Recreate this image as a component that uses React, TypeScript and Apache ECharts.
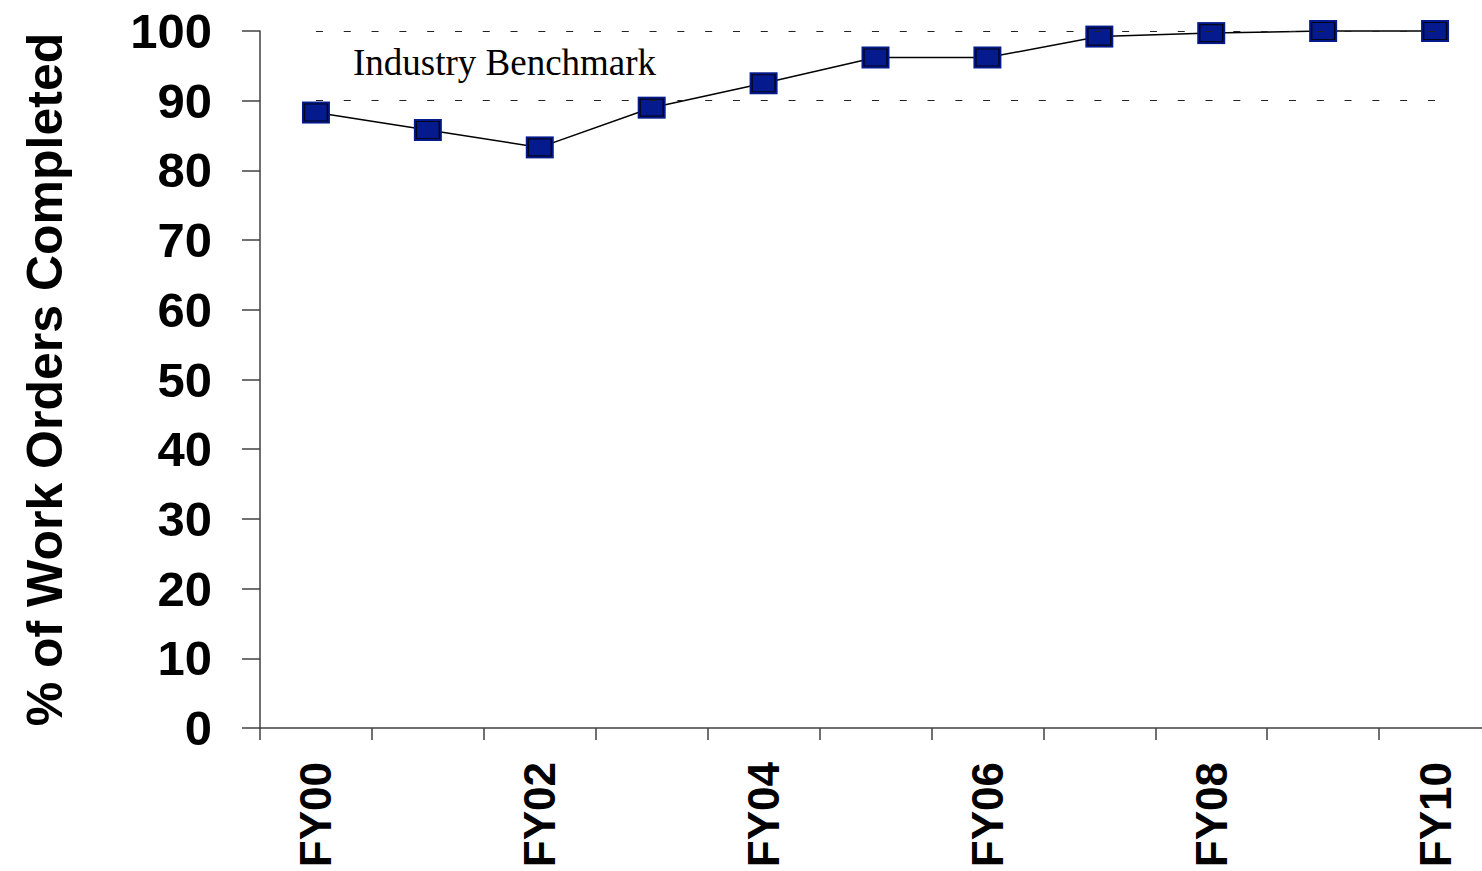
import React, { useEffect, useRef } from "react";
import * as echarts from "echarts";

const categories = ["FY00", "FY01", "FY02", "FY03", "FY04", "FY05", "FY06", "FY07", "FY08", "FY09", "FY10"];
const completed = [88.3, 85.8, 83.3, 89.0, 92.5, 96.2, 96.2, 99.2, 99.7, 100, 100];
const benchmarkLow = 90;
const benchmarkHigh = 100;
const benchmarkLabel = "Industry Benchmark";
const yTitle = "% of Work Orders Completed";

const BLUE = "#051A8D";
const AXIS = "#404040";

export default function App() {
  const ref = useRef<HTMLDivElement>(null);
  useEffect(() => {
    if (!ref.current) return;
    const chart = echarts.init(ref.current, null, { renderer: "svg" });
    const first = categories[0];
    const last = categories[categories.length - 1];
    chart.setOption({
      animation: false,
      backgroundColor: "#ffffff",
      grid: { left: 260, right: 9, top: 31, bottom: 143, containLabel: false },
      xAxis: {
        type: "category",
        data: categories,
        boundaryGap: true,
        axisLine: { show: true, lineStyle: { color: AXIS, width: 1.5 } },
        axisTick: { show: true, interval: 0, length: 12, lineStyle: { color: AXIS, width: 1.5 } },
        axisLabel: {
          interval: 1,
          rotate: 90,
          margin: 34,
          fontSize: 44,
          fontWeight: "bold",
          fontFamily: "Liberation Sans, Arial, sans-serif",
          color: "#000",
        },
        splitLine: { show: false },
      },
      yAxis: {
        type: "value",
        min: 0,
        max: 100,
        interval: 10,
        axisLine: { show: true, lineStyle: { color: AXIS, width: 1.5 } },
        axisTick: { show: true, length: 18, lineStyle: { color: AXIS, width: 1.5 } },
        axisLabel: {
          margin: 48,
          fontSize: 49,
          fontWeight: "bold",
          fontFamily: "Liberation Sans, Arial, sans-serif",
          color: "#000",
        },
        splitLine: { show: false },
        name: yTitle,
        nameLocation: "middle",
        nameGap: 190,
        nameTextStyle: {
          fontSize: 50,
          fontWeight: "bold",
          fontFamily: "Liberation Sans, Arial, sans-serif",
          color: "#000",
        },
      },
      series: [
        {
          type: "line",
          data: completed,
          clip: false,
          symbol: "rect",
          symbolSize: [28, 22],
          itemStyle: { color: BLUE },
          lineStyle: { color: "#000", width: 1.5 },
          z: 3,
          markLine: {
            silent: true,
            symbol: ["none", "none"],
            label: { show: false },
            lineStyle: { type: [7, 20.8], color: "#222", width: 1.2 },
            data: [
              [{ coord: [first, benchmarkLow] }, { coord: [last, benchmarkLow] }],
              [{ coord: [first, benchmarkHigh] }, { coord: [last, benchmarkHigh] }],
            ],
          },
        },
        {
          type: "scatter",
          data: completed,
          clip: false,
          symbol: "rect",
          symbolSize: [23, 17],
          itemStyle: { color: BLUE, borderColor: "#000", borderWidth: 1.3 },
          z: 4,
        },
      ],
      graphic: [
        {
          type: "text",
          x: 353,
          y: 62,
          style: {
            text: benchmarkLabel,
            fontSize: 37,
            fontFamily: "Liberation Serif, Times New Roman, serif",
            fill: "#000",
            verticalAlign: "middle",
            align: "left",
          },
        },
      ],
    });
    return () => chart.dispose();
  }, []);
  return (
    <div style={{ position: "fixed", left: 0, top: 0, width: 1482, height: 871, overflow: "hidden", background: "#fff" }}>
      <div ref={ref} style={{ width: 1500, height: 871 }} />
    </div>
  );
}
